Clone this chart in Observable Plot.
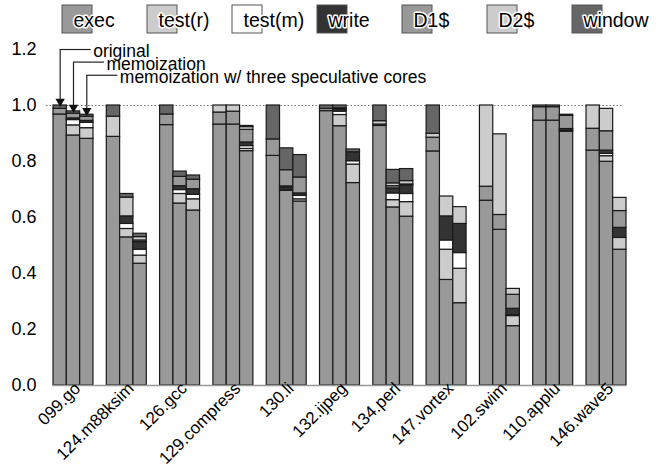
<!DOCTYPE html>
<html><head><meta charset="utf-8">
<script src="https://cdn.jsdelivr.net/npm/d3@7"></script>
<script src="https://cdn.jsdelivr.net/npm/@observablehq/plot@0.6"></script>
<style>
body{margin:0;background:#fff;font-family:"Liberation Sans",Arial,sans-serif}
#legend svg,#chart svg{display:block;overflow:visible}
g[aria-label^="y-axis"] text{font-size:18px}
</style></head><body><div id="legend"></div><div id="chart"></div>
<script>
const benchmarks = ["099.go","124.m88ksim","126.gcc","129.compress","130.li","132.ijpeg","134.perl","147.vortex","102.swim","110.applu","146.wave5"];
const variants = ["original","memoization","memoization w/ three speculative cores"];
const series = ["exec","test(r)","test(m)","write","D1$","D2$","window"];
const colors = ["#999999","#cccccc","#ffffff","#333333","#999999","#cccccc","#666666"];

// values per bar, ordered benchmark by benchmark: original, memoization, speculative
const exec  = [.968,.893,.881, .888,.529,.435, .930,.650,.625, .932,.932,.837, .820,.695,.657, .980,.926,.723, .927,.636,.603, .836,.377,.294, .660,.556,.212, .946,.946,.906, .839,.799,.485];
const testR = [0,.036,.038, 0,.030,.029, 0,.034,.040, 0,0,.008, 0,.004,.008, 0,.040,.066, 0,.026,.052, 0,.108,.123, 0,0,.036, 0,0,.004, 0,.020,.042];
const testM = [0,.019,.019, 0,.018,.021, 0,.014,.016, 0,0,.010, 0,.005,.012, 0,.012,.012, 0,.024,.029, 0,.033,.056, 0,0,.003, 0,0,0, 0,.008,0];
const write = [0,.006,.007, 0,.027,.027, 0,.014,.020, 0,0,.013, 0,.007,.009, 0,.008,.032, 0,.018,.030, 0,.086,.104, 0,0,.023, 0,0,.006, 0,.012,.036];
const d1    = [.020,.017,.015, 0,0,.006, .038,.033,.034, .043,.046,.045, .059,.058,.057, .008,.004,0, .005,.008,.004, .049,0,0, .050,.053,.050, .048,.048,.047, .078,.069,.060];
const d2    = [0,0,0, .072,.067,.012, 0,0,0, .025,.022,.010, 0,0,0, 0,0,0, .012,.010,.012, .014,.071,.060, .290,.288,.021, 0,0,0, .083,.080,.047];
const win   = [.012,.008,.007, .040,.013,.012, .032,.019,.015, 0,0,.004, .121,.078,.080, .012,.010,.010, .056,.048,.043, .101,0,0, 0,0,0, .006,.006,.004, 0,0,0];

const bySeries = [exec, testR, testM, write, d1, d2, win];
const font = '"Liberation Sans", Arial, sans-serif';

const rows = [];
const totals = [];
for (let i = 0; i < exec.length; i++) {
  const g = Math.floor(i / 3), v = i % 3;
  let t = 0;
  series.forEach((s, k) => {
    const val = bySeries[k][i];
    t += val;
    if (val > 0) rows.push({g, v, benchmark: benchmarks[g], variant: variants[v], series: s, value: val});
  });
  totals.push(t);
}
const slot = (g, v) => g * 4 + v;
const centers = benchmarks.map((b, g) => slot(g, 1) + 0.5);
const levels = [1.2, 1.155, 1.108];
const ann = variants.map((label, v) => ({label, c: slot(0, v) + 0.5, level: levels[v], top: totals[v]}));

// legend
const legend = Plot.plot({
  width: 662, height: 38, margin: 0,
  style: {fontFamily: font, background: "white"},
  x: {domain: [0, series.length], range: [62, 657], axis: null},
  y: {axis: null},
  color: {domain: series, range: colors},
  marks: [
    Plot.rect(series, {x1: (d, i) => i, x2: (d, i) => i + 1, fill: d => d, stroke: "#555", strokeWidth: 1, insetRight: 55, insetTop: 5, insetBottom: 5}),
    Plot.text(series, {x: (d, i) => i, text: d => d, dx: 11, dy: 1, textAnchor: "start", fontSize: 19.5, fill: "black", stroke: "white", strokeWidth: 3})
  ]
});
document.getElementById("legend").appendChild(legend);

const chart = Plot.plot({
  width: 662, height: 432,
  marginLeft: 53, marginRight: 36, marginTop: 11, marginBottom: 85,
  style: {fontFamily: font, background: "white", color: "black"},
  x: {domain: [0, 43], axis: null},
  y: {domain: [0, 1.2], ticks: [0, 0.2, 0.4, 0.6, 0.8, 1.0, 1.2], tickFormat: ".1f", tickSize: 0, tickPadding: 17, label: null},
  color: {domain: series, range: colors},
  marks: [
    Plot.ruleY([1], {stroke: "#777", strokeDasharray: "1.5,2", strokeWidth: 1.2, insetLeft: -7, insetRight: 3}),
    Plot.rectY(rows, {x1: d => slot(d.g, d.v), x2: d => slot(d.g, d.v) + 1, y: "value", fill: "series", stroke: "#1a1a1a", strokeWidth: 1.2}),
    Plot.ruleY([0], {stroke: "#999", strokeWidth: 1.5}),
    Plot.text(benchmarks, {x: (d, g) => centers[g], text: d => d, frameAnchor: "bottom", rotate: -45, textAnchor: "end", dx: 8, dy: 4, fontSize: 17, fill: "black"}),
    Plot.ruleY(ann, {x1: "c", x2: "c", y: "level", stroke: "#222", strokeWidth: 1.2, insetRight: -31}),
    Plot.link(ann, {x1: "c", x2: "c", y1: "level", y2: "top", stroke: "#222", strokeWidth: 1.2}),
    Plot.dot(ann, {x: "c", y: "top", symbol: "triangle", rotate: 180, r: 3.5, fill: "#111", stroke: "none", dy: -4}),
    Plot.text(ann, {x: "c", y: "level", text: "label", dx: 33, dy: 2, textAnchor: "start", fontSize: 17.5, fill: "black"})
  ]
});
document.getElementById("chart").appendChild(chart);
</script></body></html>
